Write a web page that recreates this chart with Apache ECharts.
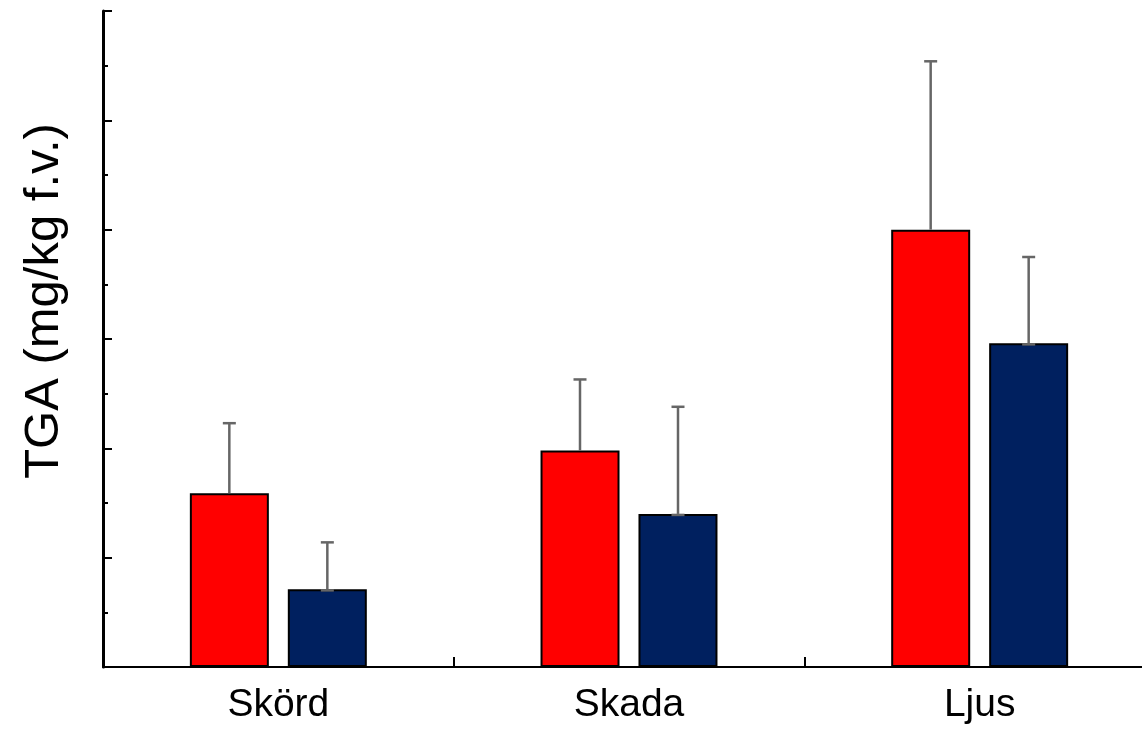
<!DOCTYPE html>
<html>
<head>
<meta charset="utf-8">
<script src="https://cdn.jsdelivr.net/npm/echarts@6/dist/echarts.min.js"></script>
<style>html,body{margin:0;padding:0;background:#fff;overflow:hidden;width:1142px;height:730px}#c{width:1155px;height:730px}</style>
</head>
<body>
<div id="c"></div>
<script>
const categories = ['Skörd', 'Skada', 'Ljus'];
const redValues = [1.59, 1.98, 4.00];
const redErrors = [0.64, 0.65, 1.54];
const blueValues = [0.71, 1.40, 2.96];
const blueErrors = [0.43, 0.98, 0.79];
const yTitle = 'TGA (mg/kg f.v.)';

const FONT = '"Liberation Sans", Arial, Helvetica, sans-serif';
const BAR_W = 79;
const HALF_STEP = 49;

function errRender(offset, lowerCap) {
  return function (params, api) {
    const idx = api.value(0);
    const v = api.value(1);
    const e = api.value(2);
    const base = api.coord([idx, v]);
    const top = api.coord([idx, v + e]);
    const x = base[0] + offset;
    const style = { stroke: '#666666', lineWidth: 2.5 };
    const children = [
      { type: 'line', shape: { x1: x, y1: base[1], x2: x, y2: top[1] }, style: style },
      { type: 'line', shape: { x1: x - 6.5, y1: top[1], x2: x + 6.5, y2: top[1] }, style: style }
    ];
    if (lowerCap) {
      children.push({ type: 'line', shape: { x1: x - 6.5, y1: base[1] + 1, x2: x + 6.5, y2: base[1] + 1 }, style: style });
    }
    return { type: 'group', children: children };
  };
}

const chart = echarts.init(document.getElementById('c'), null, { renderer: 'canvas' });
chart.setOption({
  animation: false,
  backgroundColor: '#ffffff',
  grid: { left: 103, right: 0, top: 11, bottom: 63, containLabel: false },
  xAxis: {
    type: 'category',
    data: categories,
    boundaryGap: true,
    axisLine: { show: true, lineStyle: { color: '#000', width: 2 } },
    axisTick: { show: true, inside: true, length: 10, alignWithLabel: false, lineStyle: { color: '#000', width: 2 } },
    axisLabel: { show: true, color: '#000', fontSize: 39, fontFamily: FONT, margin: 19 },
    splitLine: { show: false }
  },
  yAxis: {
    type: 'value',
    min: 0, max: 6, interval: 1,
    axisLine: { show: true, lineStyle: { color: '#000', width: 3 } },
    axisTick: { show: true, inside: true, length: 9, lineStyle: { color: '#000', width: 2 } },
    minorTick: { show: true, splitNumber: 2, length: 5, lineStyle: { color: '#000', width: 2 } },
    axisLabel: { show: false },
    splitLine: { show: false },
    minorSplitLine: { show: false }
  },
  graphic: [{
    type: 'text',
    x: 44, y: 301,
    rotation: Math.PI / 2,
    style: { text: yTitle, fill: '#000', font: '49px ' + FONT, textAlign: 'center', textVerticalAlign: 'middle' }
  }],
  series: [
    {
      type: 'bar', data: redValues, barWidth: BAR_W, barGap: '24%',
      itemStyle: { color: '#ff0000', borderColor: '#000', borderWidth: 2 }, z: 2
    },
    {
      type: 'bar', data: blueValues, barWidth: BAR_W, barGap: '24%',
      itemStyle: { color: '#00205f', borderColor: '#000', borderWidth: 2 }, z: 2
    },
    {
      type: 'custom', renderItem: errRender(-HALF_STEP, false),
      data: categories.map((c, i) => [i, redValues[i], redErrors[i]]), z: 3
    },
    {
      type: 'custom', renderItem: errRender(HALF_STEP, true),
      data: categories.map((c, i) => [i, blueValues[i], blueErrors[i]]), z: 3
    }
  ]
});
</script>
</body>
</html>
